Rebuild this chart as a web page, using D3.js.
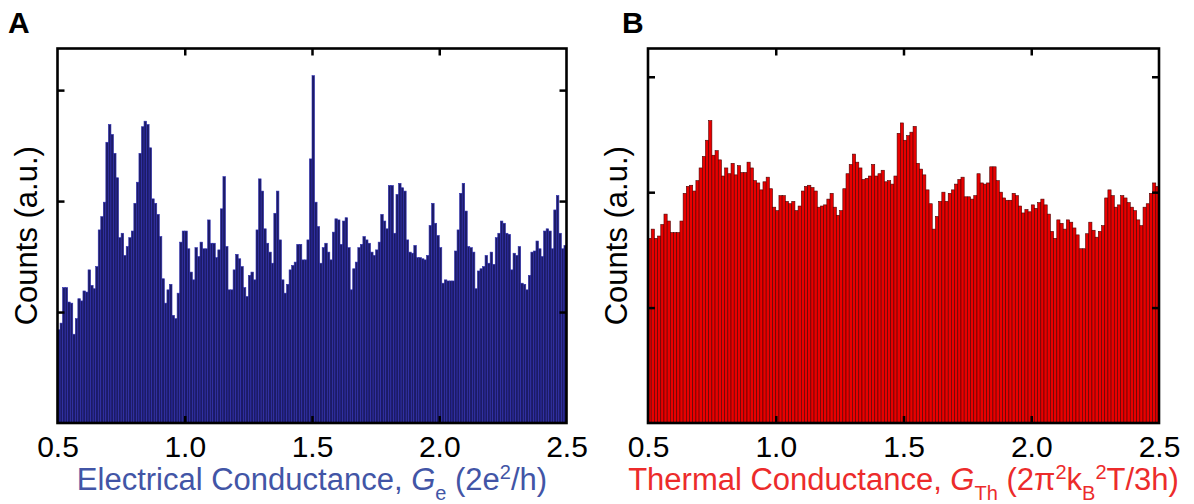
<!DOCTYPE html>
<html>
<head>
<meta charset="utf-8">
<script src="https://cdn.jsdelivr.net/npm/d3@7"></script>
<style>
  html, body { margin: 0; padding: 0; background: #fff; }
  svg { display: block; font-family: "Liberation Sans", Arial, Helvetica, sans-serif; }
</style>
</head>
<body>
<svg id="chart" width="1194" height="504"></svg>
<script>
// Histogram bins along the conductance axis
const binStart = 0.5;
const electricalBinWidth = 0.01;
const thermalBinWidth = 0.0125;

// Axis ticks
const xTickValues = [0.5, 1.0, 1.5, 2.0, 2.5];
const xInnerTicks = [1.0, 1.5, 2.0];
const yTickValues = [1, 2, 3];

// Electrical conductance histogram, counts per 0.01 bin (a.u.)
const countsElectrical = [
  0.84, 0.90, 1.22, 1.22, 1.09, 1.08, 0.80, 0.94, 1.12, 1.10,
  1.19, 1.18, 1.38, 1.24, 1.21, 1.41, 1.74, 1.86, 1.99, 2.53,
  2.69, 2.60, 2.43, 2.21, 1.67, 1.71, 1.51, 1.59, 1.67, 1.73,
  1.98, 2.17, 2.43, 2.67, 2.72, 2.69, 2.48, 2.02, 1.98, 1.88,
  1.68, 1.30, 1.08, 1.20, 1.25, 0.97, 0.94, 1.17, 1.63, 1.73,
  1.73, 1.57, 1.36, 1.29, 1.58, 1.50, 1.63, 1.57, 1.57, 1.83,
  1.62, 1.62, 1.49, 1.56, 1.93, 2.22, 1.59, 1.20, 1.20, 1.38,
  1.52, 1.48, 1.41, 1.22, 1.14, 1.33, 1.36, 1.29, 1.74, 2.20,
  2.09, 1.75, 1.62, 1.54, 1.44, 1.89, 2.09, 1.65, 1.29, 1.17,
  1.25, 1.38, 1.42, 1.45, 1.61, 1.61, 1.47, 1.47, 1.65, 2.38,
  3.13, 1.99, 1.77, 1.44, 1.58, 1.62, 1.54, 1.47, 1.72, 1.84,
  1.83, 1.61, 1.82, 1.85, 1.58, 1.20, 1.39, 1.45, 1.58, 1.61,
  1.68, 1.65, 1.62, 1.54, 1.51, 1.56, 1.63, 1.88, 1.82, 1.75,
  2.14, 2.14, 1.71, 2.06, 2.16, 2.12, 2.09, 1.65, 1.54, 1.53,
  1.60, 1.49, 1.49, 1.48, 1.47, 1.51, 1.78, 1.98, 1.80, 1.69,
  1.58, 1.26, 1.29, 1.28, 1.28, 1.28, 1.55, 1.74, 2.07, 2.16,
  1.91, 1.59, 1.58, 1.54, 1.21, 1.37, 1.39, 1.41, 1.51, 1.44,
  1.54, 1.43, 1.67, 1.71, 1.82, 1.80, 1.71, 1.70, 1.38, 1.53,
  1.51, 1.59, 1.26, 1.25, 1.20, 1.33, 1.54, 1.55, 1.64, 1.57,
  1.50, 1.73, 1.75, 1.73, 1.57, 1.92, 2.05, 1.71, 1.57, 1.60
];

// Thermal conductance histogram, counts per 0.0125 bin (a.u.)
const countsThermal = [
  1.60, 1.68, 1.60, 1.62, 1.72, 1.81, 1.75, 1.65, 1.65, 1.65,
  1.75, 1.99, 2.05, 2.06, 2.01, 2.10, 2.21, 2.31, 2.45, 2.62,
  2.32, 2.36, 2.28, 2.14, 2.21, 2.16, 2.25, 2.15, 2.23, 2.17,
  2.17, 2.26, 2.21, 2.10, 2.08, 2.02, 2.09, 2.13, 2.03, 1.87,
  1.84, 1.97, 1.97, 1.92, 1.90, 1.92, 1.84, 1.88, 2.01, 2.05,
  2.06, 2.04, 2.01, 1.87, 1.88, 1.89, 1.94, 1.99, 1.87, 1.80,
  1.84, 2.03, 2.16, 2.24, 2.33, 2.26, 2.21, 2.11, 2.12, 2.14,
  2.24, 2.14, 2.16, 2.19, 2.09, 2.10, 2.07, 2.14, 2.51, 2.60,
  2.45, 2.49, 2.52, 2.57, 2.25, 2.20, 2.15, 2.02, 1.90, 1.68,
  1.79, 1.92, 2.00, 1.92, 1.99, 2.02, 2.07, 2.11, 2.13, 1.96,
  1.96, 1.94, 1.97, 2.16, 2.08, 2.07, 2.08, 2.22, 2.22, 2.10,
  2.00, 1.95, 1.93, 1.93, 1.99, 1.97, 1.88, 1.82, 1.85, 1.83,
  1.89, 1.86, 1.91, 1.94, 1.89, 1.81, 1.66, 1.60, 1.76, 1.73,
  1.68, 1.76, 1.74, 1.69, 1.63, 1.51, 1.51, 1.64, 1.74, 1.67,
  1.61, 1.66, 1.71, 1.95, 2.02, 1.97, 1.87, 1.89, 1.97, 1.95,
  1.91, 1.87, 1.84, 1.76, 1.71, 1.87, 1.90, 1.99, 2.08, 2.05
];

const svg = d3.select("#chart");
const FONT = 30;

function drawPanel(cfg) {
  const x = d3.scaleLinear().domain([0.5, 2.5]).range([cfg.left, cfg.right]);
  const y = d3.scaleLinear().domain([0, cfg.yMax]).range([cfg.bottom, cfg.top]);
  const g = svg.append("g");

  // histogram bars
  g.append("g").selectAll("rect")
    .data(cfg.counts)
    .join("rect")
      .attr("x", (d, i) => x(binStart + i * cfg.binWidth))
      .attr("width", (d, i) => x(binStart + (i + 1) * cfg.binWidth) - x(binStart + i * cfg.binWidth))
      .attr("y", d => y(d))
      .attr("height", d => y(0) - y(d))
      .attr("fill", cfg.fill)
      .attr("stroke", cfg.stroke)
      .attr("stroke-width", 0.6);

  // inward ticks on all four sides
  const tickStyle = sel => {
    sel.select(".domain").remove();
    sel.selectAll(".tick line").attr("stroke", "#000").attr("stroke-width", 2.5);
  };
  g.append("g")
    .attr("transform", `translate(0,${cfg.bottom})`)
    .call(d3.axisBottom(x).tickValues(xInnerTicks).tickSize(-7).tickFormat(""))
    .call(tickStyle);
  g.append("g")
    .attr("transform", `translate(0,${cfg.top})`)
    .call(d3.axisTop(x).tickValues(xInnerTicks).tickSize(-7).tickFormat(""))
    .call(tickStyle);
  g.append("g")
    .attr("transform", `translate(${cfg.left},0)`)
    .call(d3.axisLeft(y).tickValues(yTickValues).tickSize(-7).tickFormat(""))
    .call(tickStyle);
  g.append("g")
    .attr("transform", `translate(${cfg.right},0)`)
    .call(d3.axisRight(y).tickValues(yTickValues).tickSize(-7).tickFormat(""))
    .call(tickStyle);

  // tick labels under the frame
  const labels = g.append("g")
    .attr("transform", `translate(0,${cfg.bottom})`)
    .call(d3.axisBottom(x).tickValues(xTickValues).tickSize(0).tickPadding(13).tickFormat(d3.format(".1f")));
  labels.select(".domain").remove();
  labels.selectAll("text")
    .attr("font-size", FONT)
    .attr("font-family", "Liberation Sans, Arial, sans-serif")
    .attr("fill", "#000");

  // frame
  g.append("rect")
    .attr("x", cfg.left).attr("y", cfg.top)
    .attr("width", cfg.right - cfg.left).attr("height", cfg.bottom - cfg.top)
    .attr("fill", "none").attr("stroke", "#000").attr("stroke-width", 2.6);

  // y-axis title
  g.append("text")
    .attr("transform", `translate(${cfg.left - 21},${(cfg.top + cfg.bottom) / 2}) rotate(-90)`)
    .attr("text-anchor", "middle")
    .attr("font-size", 31)
    .attr("fill", "#000")
    .text("Counts (a.u.)");

  // x-axis title with italic symbol, sub- and superscripts
  const t = g.append("text")
    .attr("x", x(1.5))
    .attr("y", 490)
    .attr("text-anchor", "middle")
    .attr("font-size", 31)
    .attr("fill", cfg.titleColor);
  let shift = 0;
  cfg.title.forEach(part => {
    const target = part.pos === "sub" ? 10 : part.pos === "sup" ? -11 : 0;
    const ts = t.append("tspan")
      .attr("dy", target - shift)
      .text(part.text);
    shift = target;
    if (part.pos) ts.attr("font-size", 20);
    if (part.italic) ts.attr("font-style", "italic");
  });

  // panel letter
  svg.append("text")
    .attr("x", cfg.letterX).attr("y", 33)
    .attr("font-size", 30).attr("font-weight", "bold")
    .attr("fill", "#000")
    .text(cfg.letter);
}

drawPanel({
  left: 57.5, right: 566.5, top: 48.5, bottom: 423, yMax: 3.375,
  counts: countsElectrical, binWidth: electricalBinWidth,
  fill: "#1c1b66", stroke: "#2e2eb0",
  titleColor: "#4255a6",
  title: [
    { text: "Electrical Conductance, " },
    { text: "G", italic: true },
    { text: "e", pos: "sub" },
    { text: " (2e" },
    { text: "2", pos: "sup" },
    { text: "/h)" }
  ],
  letter: "A", letterX: 8
});

drawPanel({
  left: 648, right: 1159, top: 48.5, bottom: 423, yMax: 3.245,
  counts: countsThermal, binWidth: thermalBinWidth,
  fill: "#e80000", stroke: "#4d0000",
  titleColor: "#ec2b2b",
  title: [
    { text: "Thermal Conductance, " },
    { text: "G", italic: true },
    { text: "Th", pos: "sub" },
    { text: " (2\u03C0" },
    { text: "2", pos: "sup" },
    { text: "k" },
    { text: "B", pos: "sub" },
    { text: "2", pos: "sup" },
    { text: "T/3h)" }
  ],
  letter: "B", letterX: 622
});
</script>
</body>
</html>
